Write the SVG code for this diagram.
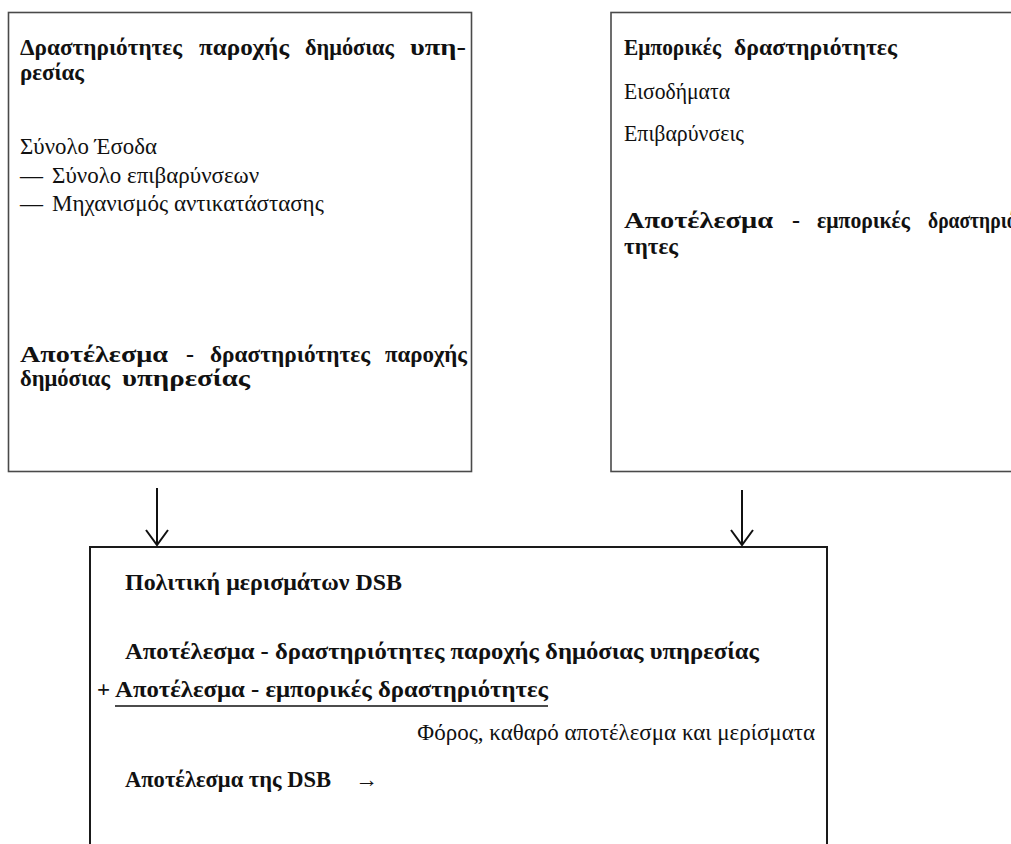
<svg xmlns="http://www.w3.org/2000/svg" width="1011" height="844" viewBox="0 0 1011 844">
<style>
.box{fill:#fff;stroke:#4a4a4a;stroke-width:1.6}
.box2{fill:#fff;stroke:#1a1a1a;stroke-width:2}
.b{font-family:"Liberation Serif","DejaVu Serif",serif;font-weight:bold;font-size:24px;fill:#111}
.bb{font-family:"Liberation Serif","DejaVu Serif",serif;font-weight:bold;font-size:23px;fill:#111}
.r{font-family:"Liberation Serif","DejaVu Serif",serif;font-size:23px;fill:#111}
.conn{stroke:#111;stroke-width:2;fill:none}
</style>
<rect width="1011" height="844" fill="#fff"/>
<g id="node-public">
<rect class="box" x="8.5" y="12.5" width="463" height="459"/>
<text class="b" x="20" y="55" textLength="162" lengthAdjust="spacingAndGlyphs">Δραστηριότητες</text>
<text class="b" x="199" y="55" textLength="90" lengthAdjust="spacingAndGlyphs">παροχής</text>
<text class="b" x="305" y="55" textLength="89" lengthAdjust="spacingAndGlyphs">δημόσιας</text>
<text class="b" x="410" y="55" textLength="56" lengthAdjust="spacingAndGlyphs">υπη-</text>
<text class="b" x="20" y="80" textLength="64" lengthAdjust="spacingAndGlyphs">ρεσίας</text>
<text class="r" x="20" y="154" textLength="137" lengthAdjust="spacingAndGlyphs">Σύνολο Έσοδα</text>
<text class="r" y="183"><tspan x="20">—</tspan><tspan x="52">Σύνολο επιβαρύνσεων</tspan></text>
<text class="r" y="211"><tspan x="20">—</tspan><tspan x="52">Μηχανισμός αντικατάστασης</tspan></text>
<text class="b" x="20" y="362" textLength="148" lengthAdjust="spacingAndGlyphs">Αποτέλεσμα</text>
<text class="b" x="186" y="362">-</text>
<text class="b" x="210" y="362" textLength="160" lengthAdjust="spacingAndGlyphs">δραστηριότητες</text>
<text class="b" x="385" y="362" textLength="82" lengthAdjust="spacingAndGlyphs">παροχής</text>
<text class="b" x="20" y="386" textLength="90" lengthAdjust="spacingAndGlyphs">δημόσιας</text>
<text class="b" x="122" y="386" textLength="128" lengthAdjust="spacingAndGlyphs">υπηρεσίας</text>
</g>
<g id="node-commercial">
<rect class="box" x="611" y="12.5" width="440" height="459"/>
<text class="b" x="624" y="55" textLength="97" lengthAdjust="spacingAndGlyphs">Εμπορικές</text>
<text class="b" x="734" y="55" textLength="163" lengthAdjust="spacingAndGlyphs">δραστηριότητες</text>
<text class="r" x="624" y="99" textLength="106" lengthAdjust="spacingAndGlyphs">Εισοδήματα</text>
<text class="r" x="624" y="141" textLength="120" lengthAdjust="spacingAndGlyphs">Επιβαρύνσεις</text>
<text class="b" x="624" y="228" textLength="149" lengthAdjust="spacingAndGlyphs">Αποτέλεσμα</text>
<text class="b" x="792" y="228">-</text>
<text class="b" x="817" y="228" textLength="93" lengthAdjust="spacingAndGlyphs">εμπορικές</text>
<text class="b" x="928" y="228" textLength="95" lengthAdjust="spacingAndGlyphs">δραστηριό-</text>
<text class="b" x="624" y="254" textLength="54" lengthAdjust="spacingAndGlyphs">τητες</text>
</g>
<g id="node-dsb">
<rect class="box2" x="90" y="547" width="737" height="320"/>
<text class="bb" x="125" y="590" textLength="277" lengthAdjust="spacingAndGlyphs">Πολιτική μερισμάτων DSB</text>
<text class="bb" x="125" y="659" textLength="634" lengthAdjust="spacingAndGlyphs">Αποτέλεσμα - δραστηριότητες παροχής δημόσιας υπηρεσίας</text>
<text class="bb" x="97" y="697">+</text>
<text class="bb" x="115" y="697" textLength="433" lengthAdjust="spacingAndGlyphs">Αποτέλεσμα - εμπορικές δραστηριότητες</text>
<line x1="115" y1="706" x2="548" y2="706" stroke="#111" stroke-width="1.5"/>
<text class="r" x="815" y="740" text-anchor="end">Φόρος, καθαρό αποτέλεσμα και μερίσματα</text>
<text class="bb" x="125" y="787" textLength="206" lengthAdjust="spacingAndGlyphs">Αποτέλεσμα της DSB</text>
<text class="r" x="355" y="787">→</text>
</g>
<g id="connectors">
<line class="conn" x1="157" y1="488" x2="157" y2="545"/>
<polyline class="conn" points="146,530 157,545 168,530"/>
<line class="conn" x1="742" y1="490" x2="742" y2="545"/>
<polyline class="conn" points="731,530 742,545 753,530"/>
</g>
</svg>
